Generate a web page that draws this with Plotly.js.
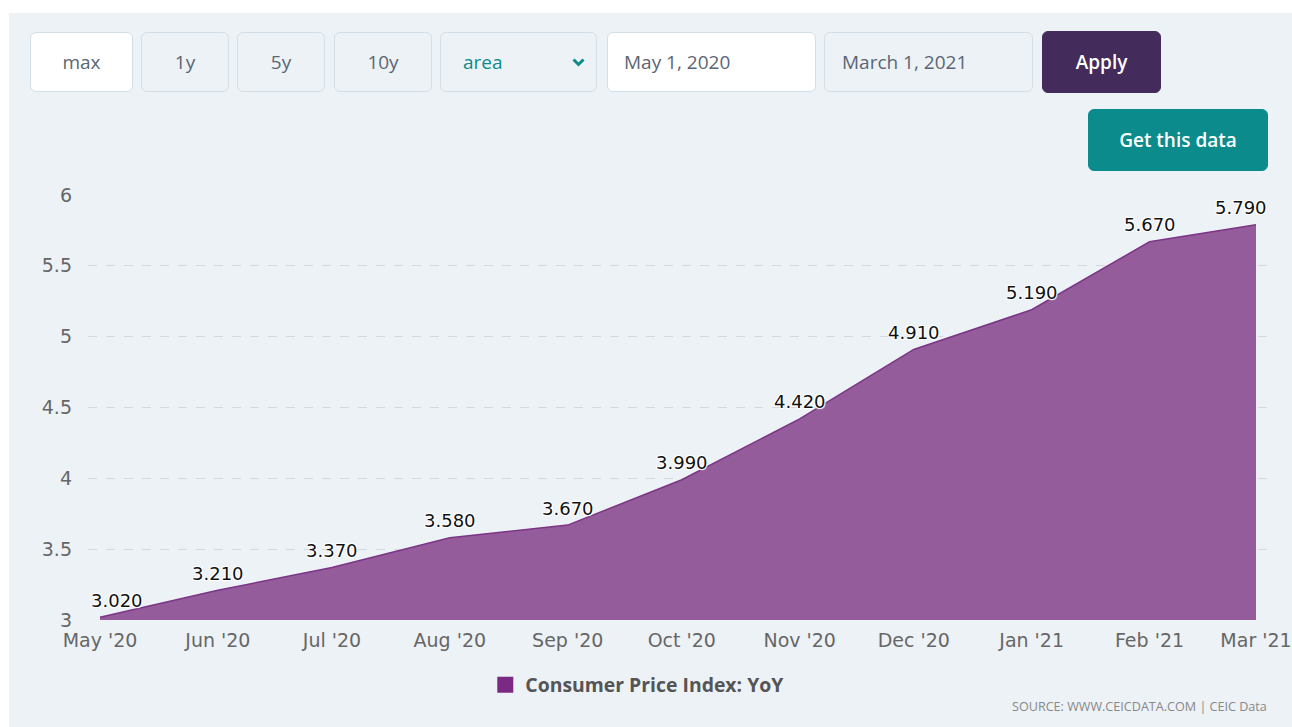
<!DOCTYPE html>
<html><head><meta charset="utf-8">
<script src="https://cdn.plot.ly/plotly-3.0.1.min.js"></script>
<style>
html,body{margin:0;padding:0;background:#fff;width:1292px;height:727px;overflow:hidden;}
#panel{position:absolute;left:9px;top:13px;width:1283px;height:714px;background:#edf2f7;}
#chart{position:absolute;left:0;top:0;width:1292px;height:727px;}
.btn{position:absolute;box-sizing:border-box;border:1.5px solid #d3dfe8;border-radius:6px;background:#edf2f7;
 font-family:"Open Sans",sans-serif;font-size:19px;color:#5b6674;display:flex;align-items:center;justify-content:center;}
</style></head>
<body>
<div id="panel"></div>
<div id="chart"></div>
<div class="btn" style="left:30px;top:32px;width:103px;height:60px;background:#fff;">max</div>
<div class="btn" style="left:141px;top:32px;width:88px;height:60px;">1y</div>
<div class="btn" style="left:237px;top:32px;width:88px;height:60px;">5y</div>
<div class="btn" style="left:334px;top:32px;width:98px;height:60px;">10y</div>
<div class="btn" style="left:440px;top:32px;width:157px;height:60px;justify-content:flex-start;padding-left:22px;color:#0d8b8b;">area
 <svg style="position:absolute;right:11px;top:25px;" width="13" height="9" viewBox="0 0 13 9"><path d="M1.5 1.5 L6.5 6.5 L11.5 1.5" stroke="#0d8b8b" stroke-width="3" fill="none"/></svg></div>
<div class="btn" style="left:607px;top:32px;width:209px;height:60px;background:#fff;justify-content:flex-start;padding-left:16px;">May 1, 2020</div>
<div class="btn" style="left:824px;top:32px;width:209px;height:60px;justify-content:flex-start;padding-left:17px;">March 1, 2021</div>
<div class="btn" style="left:1042px;top:31px;width:119px;height:62px;background:#432b5b;border-color:#432b5b;color:#fff;font-weight:600;">Apply</div>
<div class="btn" style="left:1088px;top:109px;width:180px;height:62px;background:#0b8b8c;border-color:#0b8b8c;color:#fff;font-weight:600;">Get this data</div>
<script>
const dates = ["2020-05-01","2020-06-01","2020-07-01","2020-08-01","2020-09-01","2020-10-01","2020-11-01","2020-12-01","2021-01-01","2021-02-01","2021-03-01"];
const months = ["May '20","Jun '20","Jul '20","Aug '20","Sep '20","Oct '20","Nov '20","Dec '20","Jan '21","Feb '21","Mar '21"];
const cpiYoY = [3.02, 3.21, 3.37, 3.58, 3.67, 3.99, 4.42, 4.91, 5.19, 5.67, 5.79];
const yTicks = [3, 3.5, 4, 4.5, 5, 5.5, 6];
const seriesName = "Consumer Price Index: YoY";
const sourceText = "SOURCE: WWW.CEICDATA.COM | CEIC Data";

const n = dates.length;
const annotations = cpiYoY.map((v,i)=>({
  x:dates[i], y:v, xref:'x', yref:'y', text:v.toFixed(3), showarrow:false,
  yshift:17, xshift: i===0?17:(i===n-1?-15:0),
  font:{family:'DejaVu Sans, Verdana, sans-serif', size:18, color:'#111', shadow:'1px 1px 1px #fff, -1px -1px 1px #fff, 1px -1px 1px #fff, -1px 1px 1px #fff'}
}));
annotations.push({xref:'paper',yref:'paper',x:1.001,y:-0.204,xanchor:'right',yanchor:'middle',showarrow:false,
  text:sourceText,font:{family:'"Open Sans", sans-serif',size:12.6,color:'#888'}});

const trace = {
  x: dates, y: cpiYoY, type:'scatter', mode:'lines', name: seriesName, showlegend:false,
  fill:'tozeroy', fillcolor:'#955c9b', line:{color:'#7b3585', width:1.5, shape:'linear'},
  hoverinfo:'skip'
};
const legendTrace = {
  x:[null], y:[null], type:'scatter', mode:'markers', name: seriesName, showlegend:true,
  marker:{symbol:'square', size:17, color:'#7b2a83'}, hoverinfo:'skip'
};
const layout = {
  width:1292, height:727,
  paper_bgcolor:'rgba(0,0,0,0)', plot_bgcolor:'rgba(0,0,0,0)',
  margin:{l:88, r:24, t:195, b:107},
  showlegend:true,
  legend:{orientation:'h', x:0.4655, xanchor:'center', y:-0.153, yanchor:'middle',
    font:{family:'"Open Sans", sans-serif', size:19.4, color:'#555', weight:'bold'}, itemwidth:30, bgcolor:'rgba(0,0,0,0)'},
  xaxis:{type:'date', range:['2020-04-27 20:17','2021-03-04 03:43'], tickvals: dates, ticktext: months, showgrid:false, zeroline:false,
    showline:false, ticks:'', tickfont:{family:'DejaVu Sans, Verdana, sans-serif', size:19, color:'#666'}, ticklabelstandoff:7, fixedrange:true},
  yaxis:{range:[3,6], tickvals: yTicks, ticktext: yTicks.map(String), showgrid:true, gridcolor:'#d5d9de', griddash:'dash', gridwidth:1,
    zeroline:false, showline:false, ticks:'', tickfont:{family:'DejaVu Sans, Verdana, sans-serif', size:19, color:'#666'}, ticklabelstandoff:15, fixedrange:true},
  annotations: annotations
};
Plotly.newPlot('chart',[trace, legendTrace],layout,{displayModeBar:false, staticPlot:true});
</script>
</body></html>
